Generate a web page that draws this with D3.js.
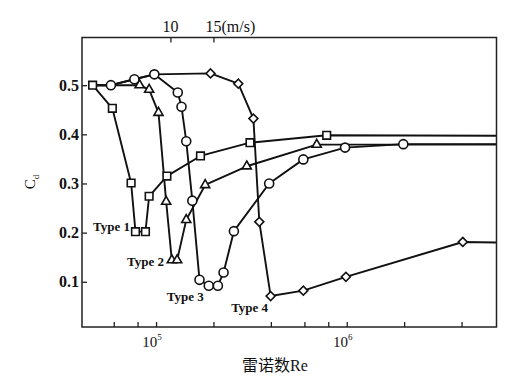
<!DOCTYPE html>
<html>
<head>
<meta charset="utf-8">
<script src="https://cdn.jsdelivr.net/npm/d3@7"></script>
<style>
  html, body { margin: 0; padding: 0; background: #fff; }
  svg { display: block; }
  text { font-family: "Liberation Serif", "DejaVu Serif", serif; fill: #111; }
</style>
</head>
<body>
<svg id="chart" width="510" height="379"></svg>
<script>
// ---------------- data ----------------
const reDomain = [4.09e4, 6.1e6];
const cdDomain = [0.008, 0.597];
const xTickValues = [6e4, 8e4, 1e5, 2e5, 4e5, 6e5, 8e5, 1e6, 2e6, 4e6];
const xLabelValues = [1e5, 1e6];
const xLabelExps = ["5", "6"];
const yTickValues = [0.1, 0.2, 0.3, 0.4, 0.5];
const topTickRe = [1.19e5, 2.0e5];
const topTickLabels = ["10", "15(m/s)"];

const startRe = 4.65e4, startCd = 0.5;

const type1Re = [4.65e4, 5.9e4, 7.4e4, 7.8e4, 8.8e4, 9.2e4, 1.14e5, 1.71e5, 3.11e5, 7.85e5];
const type1Cd = [0.5, 0.453, 0.301, 0.202, 0.202, 0.274, 0.315, 0.356, 0.383, 0.398];

const type2Re = [8.2e4, 9.2e4, 1.03e5, 1.13e5, 1.21e5, 1.29e5, 1.44e5, 1.81e5, 2.99e5, 6.96e5];
const type2Cd = [0.5, 0.491, 0.444, 0.263, 0.144, 0.144, 0.226, 0.297, 0.335, 0.379];

const type3Re = [5.8e4, 7.7e4, 9.8e4, 1.30e5, 1.36e5, 1.44e5, 1.55e5, 1.69e5, 1.89e5, 2.11e5, 2.26e5, 2.56e5, 3.92e5, 5.92e5, 9.8e5, 1.98e6];
const type3Cd = [0.5, 0.512, 0.522, 0.485, 0.456, 0.386, 0.265, 0.104, 0.092, 0.092, 0.119, 0.203, 0.300, 0.349, 0.373, 0.380];

const type4Re = [1.93e5, 2.70e5, 3.24e5, 3.48e5, 3.99e5, 5.92e5, 9.9e5, 4.06e6];
const type4Cd = [0.524, 0.503, 0.432, 0.222, 0.071, 0.082, 0.110, 0.181];

const tailCd = [0.397, 0.379, 0.380, 0.180];

const typeNames = ["Type 1", "Type 2", "Type 3", "Type 4"];
const labelRe = [7.3e4, 1.10e5, 1.78e5, 3.87e5];
const labelCd = [0.203, 0.132, 0.061, 0.039];

// ---------------- chart ----------------
const svg = d3.select("#chart");
const L = 82, R = 496.5, T = 37.5, B = 327;
const x = d3.scaleLog().domain(reDomain).range([L, R]);
const y = d3.scaleLinear().domain(cdDomain).range([B, T]);

const zip = (a, b) => a.map((v, i) => [v, b[i]]);
const tailRe = reDomain[1];

const series = [
  { pts: zip(type1Re, type1Cd), line: [...zip(type1Re, type1Cd), [tailRe, tailCd[0]]], sym: d3.symbolSquare, size: 58, rot: 0 },
  { pts: zip(type2Re, type2Cd), line: [[startRe, startCd], ...zip(type2Re, type2Cd), [tailRe, tailCd[1]]], sym: d3.symbolTriangle, size: 36, rot: 0 },
  { pts: zip(type3Re, type3Cd), line: [[startRe, startCd], ...zip(type3Re, type3Cd), [tailRe, tailCd[2]]], sym: d3.symbolCircle, size: 64, rot: 0 },
  { pts: zip(type4Re, type4Cd), line: [[startRe, startCd], ...zip(type3Re.slice(0, 3), type3Cd.slice(0, 3)), ...zip(type4Re, type4Cd), [tailRe, tailCd[3]]], sym: d3.symbolSquare, size: 40, rot: 45 }
];

const lineGen = d3.line().x(d => x(d[0])).y(d => y(d[1]));

svg.append("clipPath").attr("id", "plotclip")
  .append("rect").attr("x", L).attr("y", T).attr("width", R - L).attr("height", B - T);

const plot = svg.append("g").attr("clip-path", "url(#plotclip)");
series.forEach(s => {
  plot.append("path").datum(s.line)
    .attr("d", lineGen)
    .attr("fill", "none").attr("stroke", "#111").attr("stroke-width", 1.9)
    .attr("stroke-linejoin", "round");
});
series.forEach(s => {
  svg.append("g").selectAll("path").data(s.pts).join("path")
    .attr("transform", d => `translate(${x(d[0])},${y(d[1])}) rotate(${s.rot})`)
    .attr("d", d3.symbol().type(s.sym).size(s.size))
    .attr("fill", "#fff").attr("stroke", "#111").attr("stroke-width", 1.6);
});

// frame
svg.append("rect").attr("x", L).attr("y", T).attr("width", R - L).attr("height", B - T)
  .attr("fill", "none").attr("stroke", "#222").attr("stroke-width", 1.5);

// bottom axis
const xAxis = svg.append("g").attr("transform", `translate(0,${B})`)
  .call(d3.axisBottom(x).tickValues(xTickValues).tickSizeInner(-5).tickSizeOuter(0).tickFormat(() => ""));
xAxis.select(".domain").remove();
xAxis.selectAll("line").attr("stroke", "#222").attr("stroke-width", 1.3);

xLabelValues.forEach((v, i) => {
  const t = svg.append("text").attr("x", x(v) - 4).attr("y", 347)
    .attr("text-anchor", "middle").attr("font-size", 15);
  t.append("tspan").text("10");
  t.append("tspan").attr("font-size", 9).attr("dy", -7).text(xLabelExps[i]);
});

// top axis
const topAxis = svg.append("g").attr("transform", `translate(0,${T})`)
  .call(d3.axisTop(x).tickValues(topTickRe).tickSizeInner(-5).tickSizeOuter(0).tickFormat(() => ""));
topAxis.select(".domain").remove();
topAxis.selectAll("line").attr("stroke", "#222").attr("stroke-width", 1.3);
topTickRe.forEach((v, i) => {
  svg.append("text").attr("x", x(v) + (i === 0 ? 0 : -8)).attr("y", 32)
    .attr("text-anchor", i === 0 ? "middle" : "start")
    .attr("font-size", 16).text(topTickLabels[i]);
});

// left axis
const yAxis = svg.append("g").attr("transform", `translate(${L},0)`)
  .call(d3.axisLeft(y).tickValues(yTickValues).tickSizeInner(-5).tickSizeOuter(0)
    .tickFormat(d3.format(".1f")).tickPadding(3));
yAxis.select(".domain").remove();
yAxis.selectAll("line").attr("stroke", "#222").attr("stroke-width", 1.3);
yAxis.selectAll("text").attr("font-size", 16).attr("font-family", "Liberation Serif")
  .attr("fill", "#111").attr("font-weight", "bold");

// y label
const yl = svg.append("text").attr("transform", "translate(35,182) rotate(-90)")
  .attr("text-anchor", "middle").attr("font-size", 15);
yl.append("tspan").text("C");
yl.append("tspan").attr("font-size", 9).attr("dy", 4).text("d");

// x label
const xl = svg.append("text").attr("x", 275).attr("y", 371).attr("text-anchor", "middle").attr("font-size", 16);
xl.append("tspan").attr("font-family", "Noto Sans CJK SC").text("雷诺数");
xl.append("tspan").text("Re");

// type labels
typeNames.forEach((n, i) => {
  svg.append("text").attr("x", x(labelRe[i])).attr("y", y(labelCd[i]))
    .attr("text-anchor", "end").attr("font-size", 13).attr("font-weight", "bold").text(n);
});
</script>
</body>
</html>
